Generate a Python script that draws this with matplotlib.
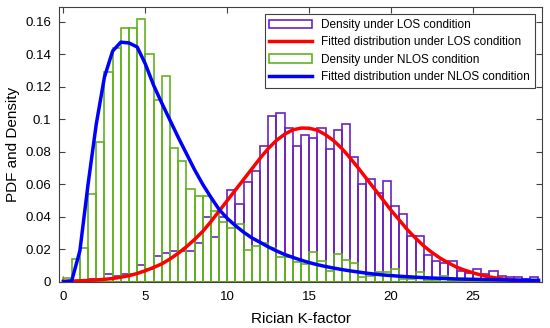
import numpy as np
import matplotlib
matplotlib.use("Agg")
from matplotlib import pyplot as plt
from matplotlib.ticker import FuncFormatter

plt.rcParams['font.family'] = ['Liberation Sans', 'DejaVu Sans']

# histogram bins (width 0.5, from 0 to 29)
bin_edges = np.arange(0, 29.01, 0.5)

# density under LOS condition
los_density = [0, 0, 0.0003, 0.0015, 0.0015, 0.0045, 0.0035, 0.0045, 0.0045, 0.0105,
               0.008, 0.0158, 0.0175, 0.019, 0.019, 0.019, 0.024, 0.0396, 0.0277, 0.0396,
               0.0564, 0.0477, 0.0615, 0.0683, 0.0835, 0.102, 0.1036, 0.0948, 0.0835, 0.0903,
               0.0886, 0.0948, 0.0816, 0.0933, 0.097, 0.0765, 0.0601, 0.0632, 0.0546, 0.0618,
               0.0466, 0.0415, 0.0281, 0.0281, 0.0162, 0.0129, 0.0113, 0.0129, 0.0064, 0.0052,
               0.008, 0.0048, 0.0065, 0.0035, 0.0027, 0.0027, 0.0015, 0.003]

# density under NLOS condition
nlos_density = [0.0021, 0.0138, 0.0206, 0.054, 0.0862, 0.1292, 0.1436, 0.156, 0.156, 0.1615,
                0.140, 0.1118, 0.1266, 0.0825, 0.0745, 0.057, 0.0529, 0.0529, 0.0437, 0.0369,
                0.0329, 0.0355, 0.0195, 0.0222, 0.0236, 0.0205, 0.0154, 0.0154, 0.0123, 0.0107,
                0.0185, 0.013, 0.0068, 0.0172, 0.0132, 0.0117, 0.0027, 0.0037, 0.0062, 0.0062,
                0.0077, 0.002, 0.0018, 0.0062, 0.0012, 0.0012, 0.0035, 0.001, 0.0008, 0.0005,
                0.0005, 0.0003, 0.0003, 0.0002, 0.0002, 0.0001, 0.0001, 0.0001]

# fitted curves, read every 0.5
k_grid = np.arange(0, 29.01, 0.5)
los_fit = [0.0003, 0.0004, 0.0006, 0.0008, 0.0011, 0.0015, 0.002, 0.0028, 0.0037, 0.0051,
           0.0068, 0.0088, 0.011, 0.014, 0.0175, 0.0215, 0.026, 0.031, 0.037, 0.0435,
           0.050, 0.0565, 0.063, 0.0695, 0.076, 0.082, 0.087, 0.0908, 0.0935, 0.0946,
           0.0945, 0.0933, 0.0905, 0.0868, 0.082, 0.0762, 0.070, 0.0635, 0.057, 0.0505,
           0.044, 0.038, 0.032, 0.0268, 0.022, 0.018, 0.0145, 0.0116, 0.009, 0.0071,
           0.0055, 0.0041, 0.003, 0.0022, 0.0015, 0.001, 0.0007, 0.0005, 0.0003]
nlos_fit = [0.0, 0.0005, 0.019, 0.060, 0.097, 0.126, 0.142, 0.1475, 0.147, 0.1445,
            0.134, 0.121, 0.110, 0.0995, 0.089, 0.079, 0.069, 0.060, 0.052, 0.0445,
            0.039, 0.0345, 0.0305, 0.027, 0.0243, 0.0215, 0.019, 0.0168, 0.015, 0.0133,
            0.0118, 0.0105, 0.0094, 0.0084, 0.0075, 0.0067, 0.006, 0.0053, 0.0047, 0.0042,
            0.0038, 0.0034, 0.0031, 0.0028, 0.0025, 0.0023, 0.0021, 0.0019, 0.0017, 0.0016,
            0.0015, 0.0014, 0.0013, 0.0012, 0.0011, 0.001, 0.001, 0.0009, 0.0009]

labels = ['Density under LOS condition', 'Fitted distribution under LOS condition',
          'Density under NLOS condition', 'Fitted distribution under NLOS condition']

purple = '#6a22c0'
green = '#63b21f'

fig = plt.figure(figsize=(5.5, 3.28), dpi=100)
ax = fig.add_axes([0.108, 0.141, 0.877, 0.837])

w = bin_edges[1] - bin_edges[0]
h1 = ax.bar(bin_edges[:-1], los_density, width=w, align='edge', fill=False,
            edgecolor=purple, linewidth=1.2, zorder=1)
h2, = ax.plot(k_grid, los_fit, color='red', lw=2.5, zorder=3)
h3 = ax.bar(bin_edges[:-1], nlos_density, width=w, align='edge', fill=False,
            edgecolor=green, linewidth=1.2, zorder=2)
h4, = ax.plot(k_grid, nlos_fit, color='blue', lw=2.5, zorder=4)

ax.set_xlim(-0.25, 29.2)
ax.set_ylim(0, 0.169)
ax.set_xticks([0, 5, 10, 15, 20, 25])
ax.set_yticks(np.arange(0, 0.161, 0.02))
ax.yaxis.set_major_formatter(FuncFormatter(lambda v, p: '%g' % round(v, 3)))
ax.tick_params(direction='in', top=True, right=True, labelsize=9.5, length=4,
               color='#404040')
ax.tick_params(axis='x', pad=7)
ax.tick_params(axis='y', pad=6)
for s in ax.spines.values():
    s.set_color('#404040')
    s.set_linewidth(0.8)

ax.set_xlabel('Rician K-factor', fontsize=11, labelpad=6)
ax.set_ylabel('PDF and Density', fontsize=11)

leg = ax.legend([h1, h2, h3, h4], labels, loc='upper right', fontsize=8.5,
                fancybox=False, framealpha=1, edgecolor='#404040',
                borderaxespad=0.6, handlelength=3.6, labelspacing=0.45)
leg.get_frame().set_linewidth(0.8)

fig.savefig('out.png', dpi=100)
